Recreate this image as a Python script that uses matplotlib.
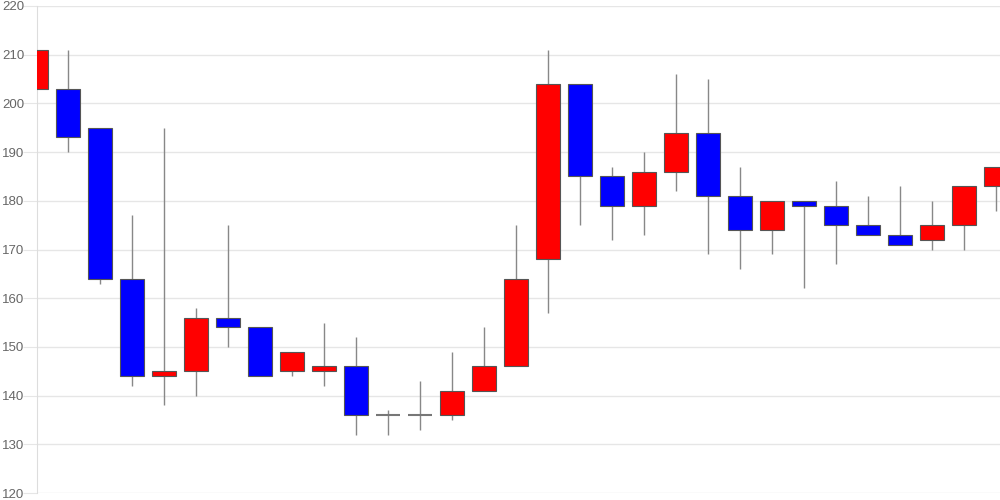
import matplotlib
matplotlib.use('Agg')
import matplotlib.pyplot as plt
import numpy as np

plt.rcParams['font.family'] = ['Liberation Sans', 'DejaVu Sans']

# Candle data (one entry per session)
opens = [203, 203, 195, 164, 144, 145, 156, 154, 145, 145, 146, 136, 136, 136, 141, 146,
         168, 204, 185, 179, 186, 194, 181, 174, 180, 179, 175, 173, 172, 175, 183]
closes = [211, 193, 164, 144, 145, 156, 154, 144, 149, 146, 136, 136, 136, 141, 146, 164,
          204, 185, 179, 186, 194, 181, 174, 180, 179, 175, 173, 171, 175, 183, 187]
highs = [211, 211, 195, 177, 195, 158, 175, 154, 149, 155, 152, 137, 143, 149, 154, 175,
         211, 204, 187, 190, 206, 205, 187, 180, 180, 184, 181, 183, 180, 183, 187]
lows = [194, 190, 163, 142, 138, 140, 150, 144, 144, 142, 132, 132, 133, 135, 141, 146,
        157, 175, 172, 173, 182, 169, 166, 169, 162, 167, 173, 171, 170, 170, 178]

y_ticks = [120, 130, 140, 150, 160, 170, 180, 190, 200, 210, 220]

fig = plt.figure(figsize=(10, 5), dpi=100)
ax = fig.add_axes([0.037, 0.014, 0.963, 0.974])

x = np.arange(len(opens))
body_w = 0.72

for i in x:
    o, c, h, l = opens[i], closes[i], highs[i], lows[i]
    # wick
    ax.vlines(i, l, h, color='#888888', linewidth=1, zorder=2)
    if c > o:
        color = '#ff0000'
    elif c < o:
        color = '#0000ff'
    else:
        color = '#666666'
    bottom = min(o, c)
    height = abs(c - o)
    if height == 0:
        ax.hlines(o, i - body_w / 2, i + body_w / 2, color='#777777', linewidth=1.5, zorder=3)
    else:
        ax.bar(i, height, bottom=bottom, width=body_w, color=color,
               edgecolor='#555555', linewidth=0.8, zorder=3)

ax.set_xlim(0.031, 30.125)
ax.set_ylim(120, 220)
ax.set_yticks(y_ticks)
ax.set_xticks([])

ax.grid(axis='y', color='#e6e6e6', linewidth=1, zorder=0)
ax.set_axisbelow(True)
for side in ['top', 'right', 'bottom']:
    ax.spines[side].set_visible(False)
ax.spines['left'].set_color('#dddddd')
ax.tick_params(axis='y', length=10, color='#e6e6e6', labelcolor='#666666',
               labelsize=9.5, pad=-1)

fig.savefig('out.png', dpi=100)
